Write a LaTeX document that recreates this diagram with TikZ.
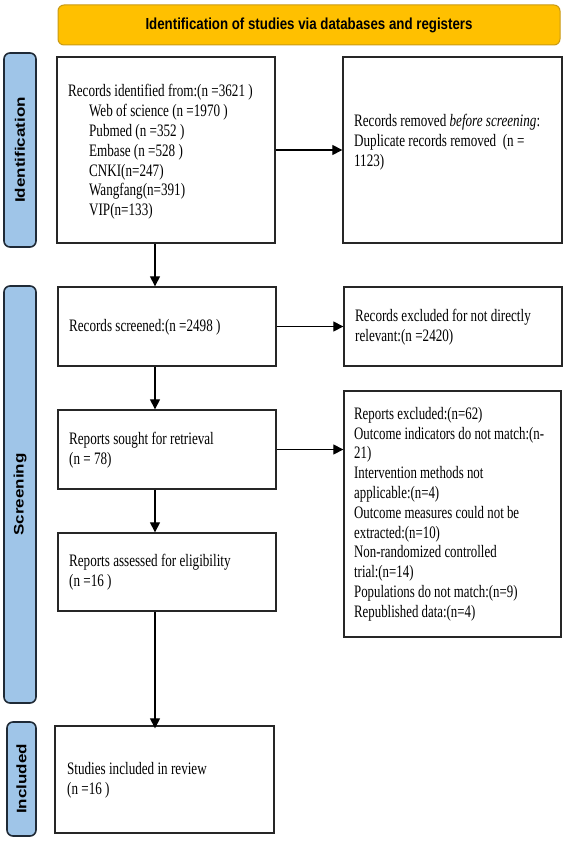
\documentclass[tikz,border=0pt]{standalone}
\usepackage{fontspec}
\setmainfont{Liberation Serif}
\newfontfamily\bannerfont{Liberation Sans}
\newfontfamily\sidefont{Liberation Sans}
\usetikzlibrary{arrows.meta}
\definecolor{bannerfill}{HTML}{FFC000}
\definecolor{bannerdraw}{HTML}{C99A14}
\definecolor{sidefill}{HTML}{9FC5E8}
\definecolor{sidedraw}{HTML}{1F2A36}
\definecolor{boxdraw}{HTML}{262626}
\tikzset{
  flowbox/.style={draw=boxdraw, line width=1.3pt, rectangle, inner sep=0pt},
  flowtext/.style={anchor=west, inner sep=0pt, align=left, xscale=0.75,
    font=\fontsize{17.5}{19.8}\selectfont},
  sidebox/.style={draw=sidedraw, fill=sidefill, line width=1.6pt, rounded corners=6pt,
    inner sep=0pt},
  sidetext/.style={rotate=90, inner sep=0pt, yscale=0.81,
    font=\sidefont\bfseries\fontsize{17}{19}\selectfont},
  flowarrow/.style={draw=black, line width=1.1pt, -{Triangle[length=10pt,width=10pt]}}
}
\begin{document}
\begin{tikzpicture}[x=1pt,y=-1pt]
\useasboundingbox (0,0) rectangle (567,842);

% banner
\node[draw=bannerdraw, fill=bannerfill, line width=1pt, rounded corners=6pt,
  minimum width=502pt, minimum height=40pt, inner sep=0pt] (banner) at (309,25) {};
\node[inner sep=0pt, xscale=0.83, font=\bannerfont\bfseries\fontsize{16}{18}\selectfont]
  (bannert) at (banner.center) {Identification of studies via databases and registers};

% side labels
\node[sidebox, minimum width=32pt, minimum height=194pt] (lid) at (20,150) {};
\node[sidetext] (lidt) at (lid.center) {Identification};
\node[sidebox, minimum width=32pt, minimum height=417pt] (lsc) at (20,494.5) {};
\node[sidetext] (lsct) at (lsc.center) {Screening};
\node[sidebox, minimum width=29pt, minimum height=114pt] (lin) at (21.5,779) {};
\node[sidetext] (lint) at (lin.center) {Included};

% boxes
\node[flowbox, minimum width=218pt, minimum height=186pt] (b1) at (166,150) {};
\node[flowtext] (t1) at (68,152)
  {Records identified from:(n =3621 )\\
   \hspace*{28pt}Web of science (n =1970 )\\
   \hspace*{28pt}Pubmed (n =352 )\\
   \hspace*{28pt}Embase (n =528 )\\
   \hspace*{28pt}CNKI(n=247)\\
   \hspace*{28pt}Wangfang(n=391)\\
   \hspace*{28pt}VIP(n=133)};
\node[flowbox, minimum width=219pt, minimum height=186pt] (b2) at (452.5,150) {};
\node[flowtext] (t2) at (354,142)
  {Records removed \textit{before screening}:\\
   Duplicate records removed\ \ (n =\\
   1123)};
\node[flowbox, minimum width=218pt, minimum height=79pt] (b3) at (167,326.5) {};
\node[flowtext] (t3) at (69,327) {Records screened:(n =2498 )};
\node[flowbox, minimum width=218pt, minimum height=79pt] (b4) at (453,326.5) {};
\node[flowtext] (t4) at (355,327)
  {Records excluded for not directly\\relevant:(n =2420)};
\node[flowbox, minimum width=218pt, minimum height=79pt] (b5) at (167,449.5) {};
\node[flowtext] (t5) at (69,450) {Reports sought for retrieval\\(n = 78)};
\node[flowbox, minimum width=217pt, minimum height=246pt] (b6) at (452.5,514) {};
\node[flowtext, xscale=0.98] (t6) at (354,514)
  {Reports excluded:(n=62)\\
   Outcome indicators do not match:(n-\\
   21)\\
   Intervention methods not\\
   applicable:(n=4)\\
   Outcome measures could not be\\
   extracted:(n=10)\\
   Non-randomized controlled\\
   trial:(n=14)\\
   Populations do not match:(n=9)\\
   Republished data:(n=4)};
\node[flowbox, minimum width=218pt, minimum height=78pt] (b7) at (167,572) {};
\node[flowtext] (t7) at (69,572) {Reports assessed for eligibility\\(n =16 )};
\node[flowbox, minimum width=219pt, minimum height=107pt] (b8) at (164.5,779.5) {};
\node[flowtext] (t8) at (67,780) {Studies included in review\\(n =16 )};

% connectors
\coordinate (ax) at (155,0);
\draw[flowarrow] (b1.east) -- (b2.west);
\draw[flowarrow] (b3.east) -- (b4.west);
\draw[flowarrow] (b5.east) -- (b5.east -| b6.west);
\draw[flowarrow] (b1.south -| ax) -- (b3.north -| ax);
\draw[flowarrow] (b3.south -| ax) -- (b5.north -| ax);
\draw[flowarrow] (b5.south -| ax) -- (b7.north -| ax);
\draw[flowarrow] (b7.south -| ax) -- ([yshift=-3pt]b8.north -| ax);
\end{tikzpicture}
\end{document}
